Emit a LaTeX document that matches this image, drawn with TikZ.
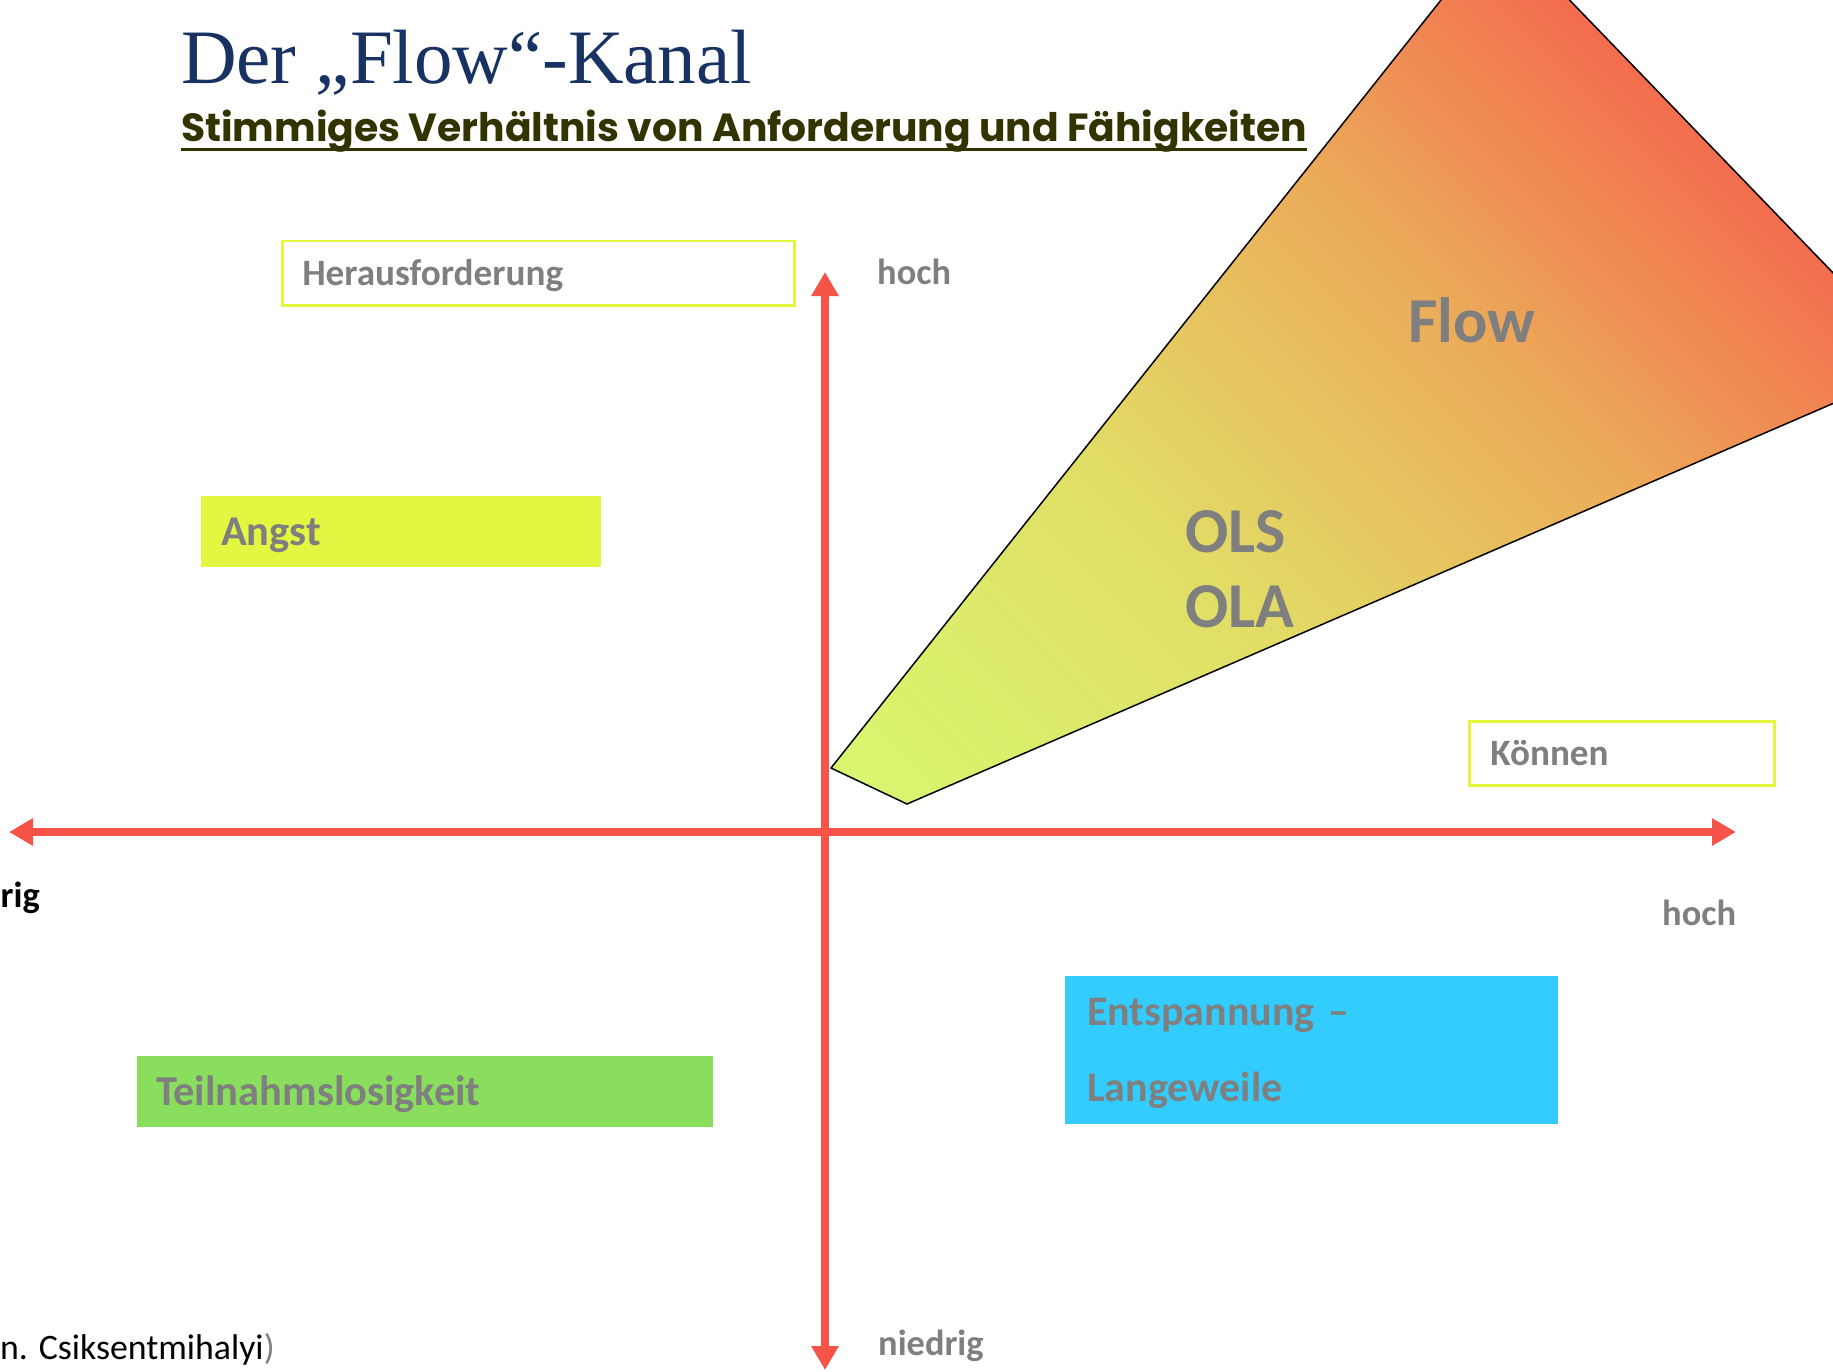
\documentclass[tikz,border=0pt]{standalone}
\usepackage{fontspec}
\setmainfont{Carlito}
\newfontfamily\titlefont{Liberation Serif}
\newfontfamily\subtitlefont{Poppins}
\usetikzlibrary{arrows.meta}

\definecolor{titleblue}{RGB}{23,50,99}
\definecolor{subolive}{RGB}{51,51,0}
\definecolor{axisred}{RGB}{246,84,72}
\definecolor{labelgray}{RGB}{127,127,127}
\definecolor{angstfill}{RGB}{226,246,66}
\definecolor{apathiefill}{RGB}{138,222,94}
\definecolor{langfill}{RGB}{51,204,255}
\definecolor{frameyellow}{RGB}{228,245,60}
\definecolor{flowA}{RGB}{216,247,112}
\definecolor{flowB}{RGB}{225,222,102}
\definecolor{flowC}{RGB}{235,172,90}
\definecolor{flowD}{RGB}{243,110,78}
\pgfdeclarehorizontalshading{flowshade}{100bp}{color(0bp)=(flowA); color(26bp)=(flowA); color(40bp)=(flowB); color(53bp)=(flowC); color(64bp)=(flowD); color(100bp)=(flowD)}

\begin{document}
\begin{tikzpicture}[x=1pt,y=-1pt,
  lbl/.style={text=labelgray,font=\bfseries\fontsize{36.4}{43}\selectfont,inner sep=0pt,anchor=base west},
  biglbl/.style={lbl,font=\bfseries\fontsize{64}{75}\selectfont},
  field/.style={text=labelgray,anchor=north west,align=left,inner ysep=0pt,text depth=0pt},
  smallfield/.style={field,font=\bfseries\fontsize{37.2}{44}\selectfont,minimum height=64pt,text height=23.5pt,
    draw=frameyellow,line width=2.5pt},
  widefield/.style={field,font=\bfseries\fontsize{42.5}{76}\selectfont,minimum height=71pt,text height=27pt},
  axis/.style={line width=8pt,axisred,{Triangle[length=24pt,width=26pt]}-{Triangle[length=24pt,width=26pt]}}]
\useasboundingbox (0,0) rectangle (1833,1372);
\clip (0,0) rectangle (1833,1372);

% flow channel
\coordinate (kA) at (831,768);
\coordinate (kB) at (907,804);
\coordinate (kC) at (1922,365);
\coordinate (kD) at (1499,-73);
\begin{scope}
\clip (kA) -- (kB) -- (kC) -- (kD) -- cycle;
\shade[shading=flowshade,shading angle=45] (676,-334) rectangle (2076,1066);
\end{scope}
\draw[line width=1.5pt] (kA) -- (kB) -- (kC) -- (kD) -- cycle;

% axes
\coordinate (links) at (9,832);
\coordinate (rechts) at (1736,832);
\coordinate (oben) at (825,272);
\coordinate (unten) at (825,1370);
\draw[axis] (links) -- (rechts);
\draw[axis] (unten) -- (oben);

\node[font=\titlefont\fontsize{77}{90}\selectfont,text=titleblue,anchor=base west,inner sep=0pt] (titel) at (181,84) {Der „Flow“-Kanal};
\node[font=\subtitlefont\bfseries\fontsize{39.3}{46}\selectfont,text=subolive,anchor=base west,inner sep=0pt] (untertitel) at (181,142) {Stimmiges Verhältnis von Anforderung und Fähigkeiten};
\draw[subolive,line width=3pt] ([yshift=-8pt]untertitel.base west) -- ([yshift=-8pt]untertitel.base east);

\node[smallfield,inner xsep=20pt,text width=472pt] (herausf) at (281,240) {Herausforderung};
\node[smallfield,inner xsep=21pt,text width=263pt] (koennen) at (1468,720) {Können};
\node[widefield,fill=angstfill,inner xsep=20pt,text width=360pt] (angst) at (201,496) {Angst};
\node[widefield,fill=apathiefill,inner xsep=19pt,text width=538pt] (apathie) at (137,1056) {Teilnahmslosigkeit};
\node[widefield,fill=langfill,inner xsep=22pt,text width=449pt,minimum height=148pt,text depth=76pt,
  font=\bfseries\fontsize{42}{76}\selectfont] (langeweile) at (1065,976) {Entspannung --\\Langeweile};

\node[lbl] (hochy) at (877,284) {hoch};
\node[lbl] (hochx) at (1662,925) {hoch};
\node[lbl] (niedrigy) at (878,1355) {niedrig};
\node[lbl,text=black,anchor=base east] (niedrigx) at (40,907) {rig};
\node[biglbl] (flow) at (1408,342) {Flow};
\node[biglbl] (ols) at (1185,552) {OLS};
\node[biglbl] (ola) at (1185,627) {OLA};

\node[font=\fontsize{35.8}{42}\selectfont,anchor=base west,inner sep=0pt] (quelle) at (0,1359) {n. Csiksentmihalyi\textcolor{labelgray}{)}};
\end{tikzpicture}
\end{document}
